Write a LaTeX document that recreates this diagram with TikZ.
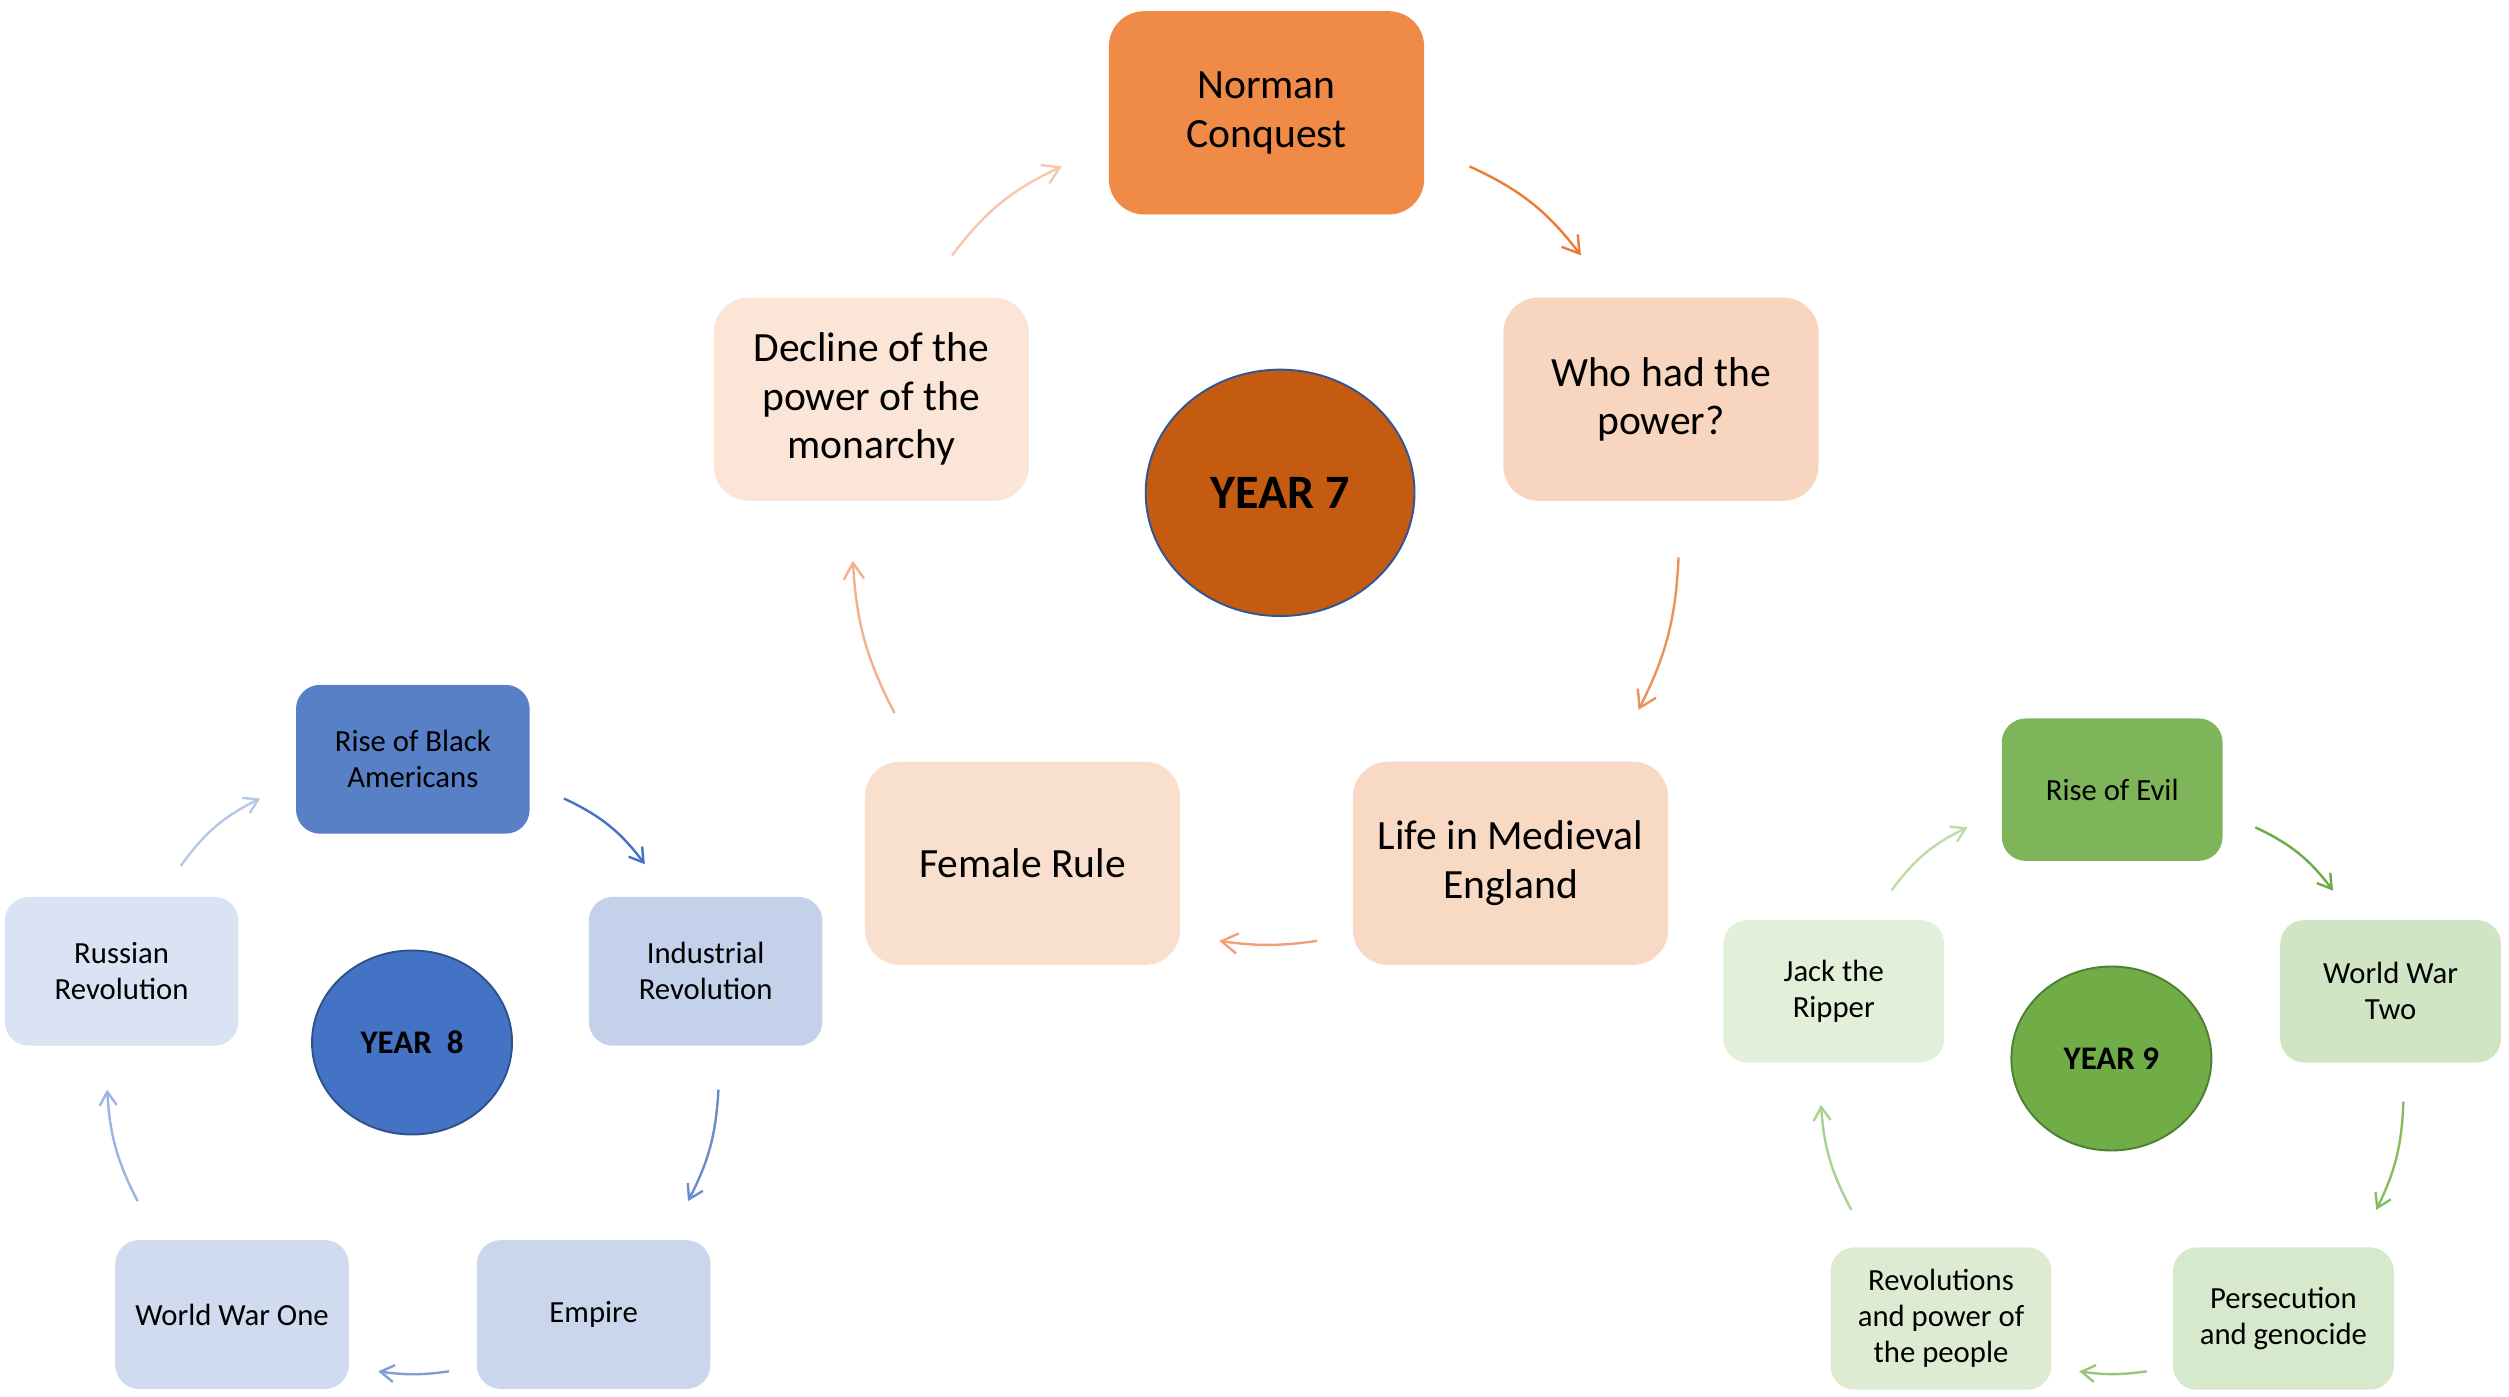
\documentclass[tikz,border=0pt]{standalone}
\usepackage{fontspec}
\setmainfont{Carlito}
\usetikzlibrary{arrows.meta,shapes.geometric}

% Year 7 palette
\definecolor{ySevenDark}{HTML}{EF8A47}
\definecolor{ySevenA}{HTML}{F8D5BE}
\definecolor{ySevenB}{HTML}{F8D9C4}
\definecolor{ySevenC}{HTML}{F9DFCD}
\definecolor{ySevenD}{HTML}{FBE5D7}
\definecolor{ySevenCore}{HTML}{C55A11}
\definecolor{ySevenRim}{HTML}{2F5597}
\definecolor{aSevenA}{HTML}{EB7C34}
\definecolor{aSevenB}{HTML}{EE9159}
\definecolor{aSevenC}{HTML}{F19F76}
\definecolor{aSevenD}{HTML}{F4AF8F}
\definecolor{aSevenE}{HTML}{F8C6AD}
% Year 8 palette
\definecolor{yEightDark}{HTML}{5780C7}
\definecolor{yEightA}{HTML}{C3D2EA}
\definecolor{yEightB}{HTML}{CAD6EC}
\definecolor{yEightC}{HTML}{D0DBEF}
\definecolor{yEightD}{HTML}{DAE3F3}
\definecolor{yEightCore}{HTML}{4472C4}
\definecolor{yEightRim}{HTML}{2F528F}
\definecolor{aEightA}{HTML}{4472C4}
\definecolor{aEightB}{HTML}{6A8DD0}
\definecolor{aEightC}{HTML}{7F9ED8}
\definecolor{aEightD}{HTML}{9DB4E1}
\definecolor{aEightE}{HTML}{B6C8EA}
% Year 9 palette
\definecolor{yNineDark}{HTML}{7EB45A}
\definecolor{yNineA}{HTML}{D0E5C3}
\definecolor{yNineB}{HTML}{D7E9CC}
\definecolor{yNineC}{HTML}{DCEBD2}
\definecolor{yNineD}{HTML}{E2EFD9}
\definecolor{yNineCore}{HTML}{70AD47}
\definecolor{yNineRim}{HTML}{507E32}
\definecolor{aNineA}{HTML}{6EAB46}
\definecolor{aNineB}{HTML}{86BC62}
\definecolor{aNineC}{HTML}{98C77A}
\definecolor{aNineD}{HTML}{A9D190}
\definecolor{aNineE}{HTML}{BDDCAA}

\begin{document}
\begin{tikzpicture}[x=0.5pt,y=0.5pt,
  boxseven/.style={rectangle, rounded corners=11pt, minimum width=98.5pt,
    minimum height=63.5pt, inner sep=0pt, align=center, text=black,
    font=\fontsize{13}{15.2}\selectfont},
  boxeight/.style={rectangle, rounded corners=7.5pt, minimum width=73pt,
    minimum height=46.5pt, inner sep=0pt, align=center, text=black,
    font=\fontsize{9.6}{11.2}\selectfont},
  boxnine/.style={rectangle, rounded corners=7.5pt, minimum width=69pt,
    minimum height=44.5pt, inner sep=0pt, align=center, text=black,
    font=\fontsize{9.6}{11.2}\selectfont},
  hubseven/.style={ellipse, minimum width=84pt, minimum height=77pt,
    inner sep=0pt, line width=0.6pt, font=\fontsize{15}{18}\bfseries\selectfont},
  hubsmall/.style={ellipse, minimum width=62.5pt, minimum height=57.5pt,
    inner sep=0pt, line width=0.6pt, font=\fontsize{10.3}{12}\bfseries\selectfont},
  cycseven/.style={-{Straight Barb[angle=64:6pt]}, line width=0.75pt},
  cycsmall/.style={-{Straight Barb[angle=64:5pt]}, line width=0.75pt},
]
\useasboundingbox (0,0) rectangle (1568,-873);

% ---------- Year 7 cycle ----------
\node[boxseven, fill=ySevenDark] (nc)   at (791.5,-70.5) {Norman\\Conquest};
\node[boxseven, fill=ySevenA]    (who)  at (1038,-249.5) {Who had the\\power?};
\node[boxseven, fill=ySevenB]    (life) at (944,-539.5)  {Life in Medieval\\England};
\node[boxseven, fill=ySevenC]    (fem)  at (639,-539.5)  {Female Rule};
\node[boxseven, fill=ySevenD]    (dec)  at (544.5,-249.5){Decline of the\\power of the\\monarchy};
\node[hubseven, fill=ySevenCore, draw=ySevenRim] (y7) at (800,-308) {YEAR 7};

\draw[cycseven, aSevenA] ([shift={(28,-33.5)}]nc.east) to[bend left=14] ([shift={(-50,26)}]who.north);
\draw[cycseven, aSevenB] ([shift={(11,-35)}]who.south) to[bend left=12] ([shift={(80,32)}]life.north);
\draw[cycseven, aSevenC] ([shift={(-22,-48.5)}]life.west) to[bend left=8] ([shift={(24,-48.5)}]fem.east);
\draw[cycseven, aSevenD] ([shift={(-80,30)}]fem.north) to[bend left=12] ([shift={(-11.5,-37)}]dec.south);
\draw[cycseven, aSevenE] ([shift={(50.5,26)}]dec.north) to[bend left=14] ([shift={(-29,-33.5)}]nc.west);

% ---------- Year 8 cycle ----------
\node[boxeight, fill=yEightDark] (rb)  at (258,-474.5) {Rise of Black\\Americans};
\node[boxeight, fill=yEightA]    (ind) at (441,-607)   {Industrial\\Revolution};
\node[boxeight, fill=yEightB]    (emp) at (371,-821.5) {Empire};
\node[boxeight, fill=yEightC]    (wwo) at (145,-821.5) {World War One};
\node[boxeight, fill=yEightD]    (rus) at (76,-607)    {Russian\\Revolution};
\node[hubsmall, fill=yEightCore, draw=yEightRim] (y8) at (257.5,-651.5) {YEAR\ \ 8};

\draw[cycsmall, aEightA] ([shift={(21,-24.5)}]rb.east) to[bend left=14] ([shift={(-38,20)}]ind.north);
\draw[cycsmall, aEightB] ([shift={(8,-27)}]ind.south) to[bend left=12] ([shift={(59,24)}]emp.north);
\draw[cycsmall, aEightC] ([shift={(-17,-35.5)}]emp.west) to[bend left=8] ([shift={(18,-35.5)}]wwo.east);
\draw[cycsmall, aEightD] ([shift={(-59,24)}]wwo.north) to[bend left=12] ([shift={(-9,-27)}]rus.south);
\draw[cycsmall, aEightE] ([shift={(37,19)}]rus.north) to[bend left=14] ([shift={(-22,-24.5)}]rb.west);

% ---------- Year 9 cycle ----------
\node[boxnine, fill=yNineDark] (evil) at (1320,-493.5) {Rise of Evil};
\node[boxnine, fill=yNineA]    (wwt)  at (1494,-619.5) {World War\\Two};
\node[boxnine, fill=yNineB]    (pers) at (1427,-824)   {Persecution\\and genocide};
\node[boxnine, fill=yNineC]    (rev)  at (1213,-824)   {Revolutions\\and power of\\the people};
\node[boxnine, fill=yNineD]    (jack) at (1146,-619.5) {Jack the\\Ripper};
\node[hubsmall, fill=yNineCore, draw=yNineRim] (y9) at (1319.5,-661.5) {YEAR 9};

\draw[cycsmall, aNineA] ([shift={(20,-23.5)}]evil.east) to[bend left=14] ([shift={(-36,18)}]wwt.north);
\draw[cycsmall, aNineB] ([shift={(8,-24)}]wwt.south) to[bend left=12] ([shift={(58,23)}]pers.north);
\draw[cycsmall, aNineC] ([shift={(-16,-33)}]pers.west) to[bend left=8] ([shift={(17,-33)}]rev.east);
\draw[cycsmall, aNineD] ([shift={(-56,23)}]rev.north) to[bend left=12] ([shift={(-8,-26)}]jack.south);
\draw[cycsmall, aNineE] ([shift={(36,18)}]jack.north) to[bend left=14] ([shift={(-21,-23.5)}]evil.west);
\end{tikzpicture}
\end{document}
